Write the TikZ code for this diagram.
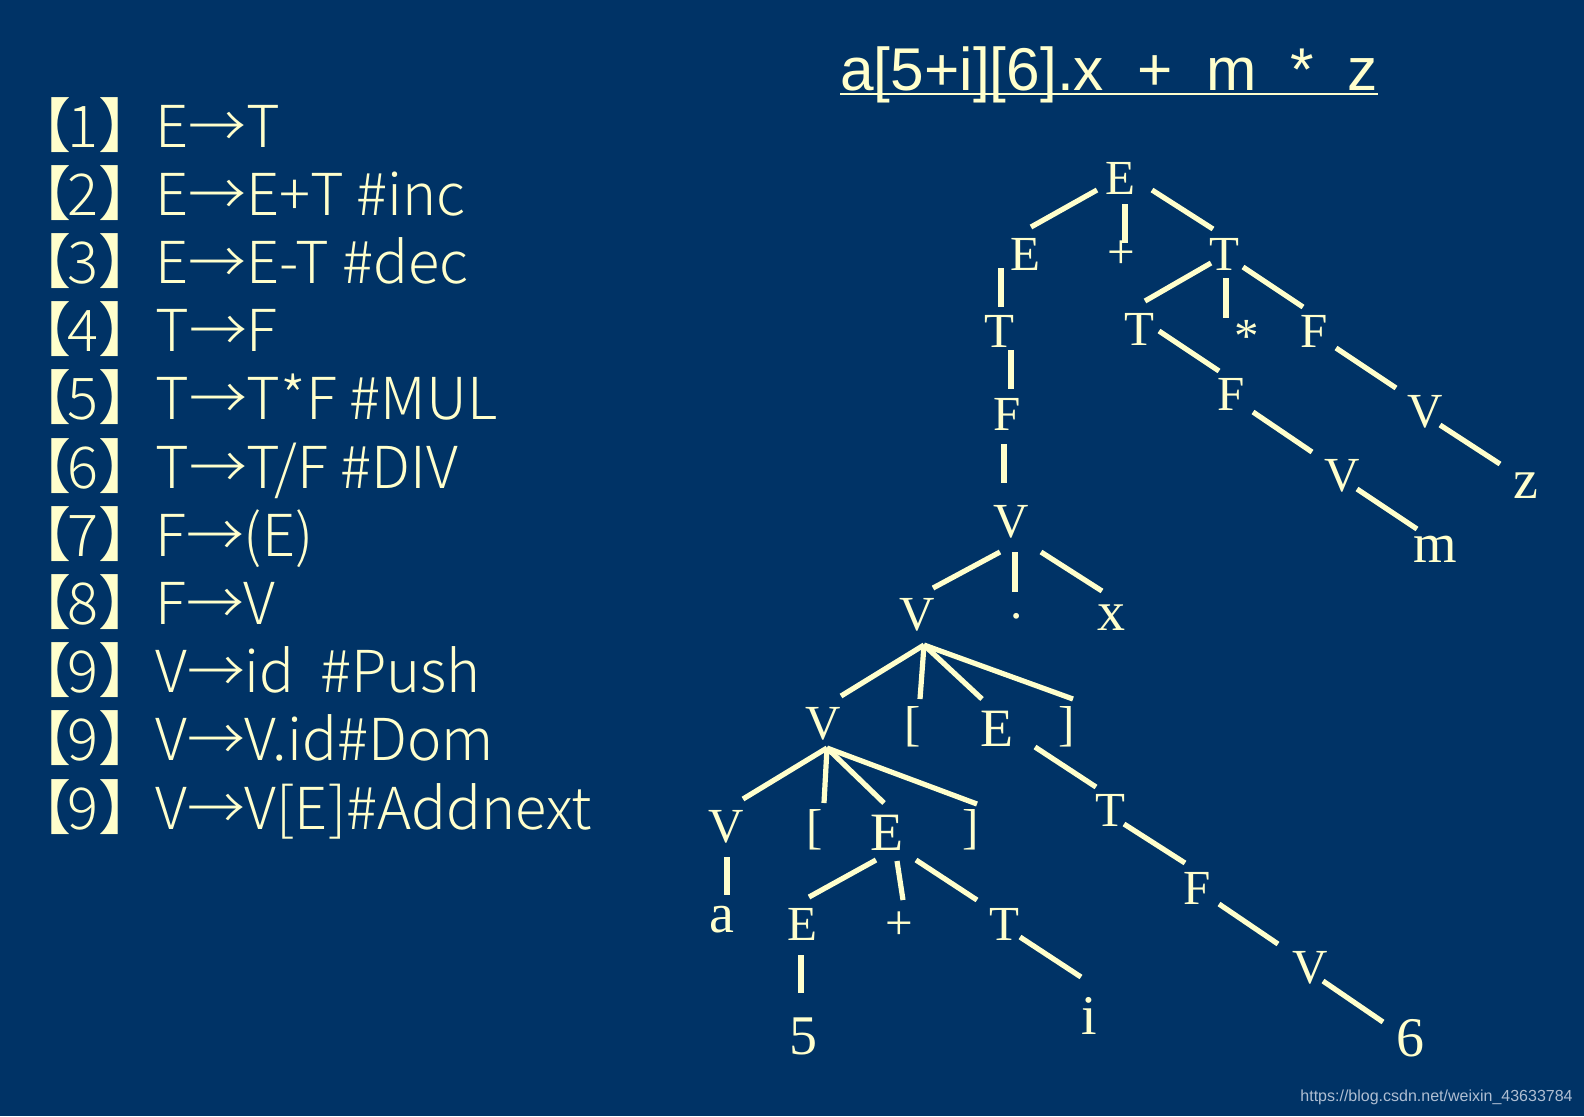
\documentclass[tikz,border=0pt]{standalone}
\usepackage{fontspec}
\IfFontExistsTF{Noto Sans CJK SC Light}{\newfontfamily\cjkf{Noto Sans CJK SC Light}}{\newfontfamily\cjkf{Noto Sans CJK SC}}
\newfontfamily\cjkb{Noto Sans CJK SC}
\newfontfamily\tmsf{Liberation Serif}
\newfontfamily\arlf{Liberation Sans}
\definecolor{bg}{RGB}{0,51,102}
\definecolor{fg}{RGB}{255,255,204}
\definecolor{wm}{RGB}{175,190,210}
\tikzset{
  gb/.style={font=\cjkf\fontsize{28.9}{30}\selectfont, text=fg, inner sep=0pt},
  gk/.style={font=\cjkb\fontsize{29.5}{30}\selectfont, text=fg, inner sep=0pt},
  nt/.style={font=\tmsf\fontsize{24.5}{25}\selectfont, text=fg, inner sep=0pt},
  ntb/.style={nt, font=\tmsf\fontsize{27}{27}\selectfont},
  lf/.style={nt, font=\tmsf\fontsize{28}{28}\selectfont},
  ln/.style={draw=fg, line width=2.6pt},
}
\newcommand\gramline[4]{%
  \node[gk, anchor=base east] (#1l) at (72,#2) {【};
  \node[gb, anchor=base west] (#1n) at (67,#2) {#3};
  \node[gk, anchor=base west] (#1r) at (98,#2) {】};
  \node[gb, anchor=base west] (#1) at (155,#2) {#4};
}
\begin{document}
\begin{tikzpicture}[x=0.5pt,y=-0.5pt]
\path[fill=bg, use as bounding box] (0,0) rectangle (1584,1116);

% grammar
\gramline{g1}{147}{1}{E→T}
\gramline{g2}{215.2}{2}{E→E+T \#inc}
\gramline{g3}{283.4}{3}{E→E-T \#dec}
\gramline{g4}{351.6}{4}{T→F}
\gramline{g5}{419.8}{5}{T→T*F \#MUL}
\gramline{g6}{488}{6}{T→T/F \#DIV}
\gramline{g7}{556.2}{7}{F→(E)}
\gramline{g8}{624.4}{8}{F→V}
\gramline{g9}{692.6}{9}{V→id\ \ \#Push}
\gramline{g10}{760.8}{9}{V→V.id\#Dom}
\gramline{g11}{829}{9}{V→V[E]\#Addnext}

% title
\node[font=\arlf\fontsize{30.2}{30}\selectfont, text=fg, inner sep=0pt, anchor=base west] (title) at (840,90) {a[5+i][6].x\ \ +\ \ m\ \ *\ \ z};
\draw[fg, line width=1.1pt] ([yshift=-2pt]title.base west) -- ([yshift=-2pt]title.base east);

% tree nodes
\node[nt] (E0) at (1120,178) {E};
\node[nt] (E1) at (1025,254) {E};
\node[nt] (P1) at (1121,255) {+};
\node[nt] (T1) at (1224,254) {T};
\node[nt] (T2) at (999,331) {T};
\node[nt] (F2) at (1007,414) {F};
\node[nt] (V3) at (1011,522) {V};
\node[nt] (T3) at (1139,329) {T};
\node[nt] (S1) at (1247,336) {*};
\node[nt] (F3) at (1314,331) {F};
\node[nt] (F4) at (1231,394) {F};
\node[nt] (V4) at (1342,476) {V};
\node[lf] (M) at (1435,549) {m};
\node[nt] (V5) at (1425,412) {V};
\node[lf] (Z) at (1526,486) {z};
\node[nt] (V6) at (917,615) {V};
\node[nt] (D1) at (1017,616) {.};
\node[lf] (X) at (1111,618) {x};
\node[nt] (V7) at (823,724) {V};
\node[nt] (L1) at (913,727) {[};
\node[ntb] (E7) at (997,729) {E};
\node[nt] (R1) at (1067,727) {]};
\node[nt] (T8) at (1110,810) {T};
\node[nt] (F9) at (1197,888) {F};
\node[nt] (V10) at (1310,968) {V};
\node[lf] (SIX) at (1410,1038) {6};
\node[nt] (V11) at (726,827) {V};
\node[nt] (L2) at (815,830) {[};
\node[ntb] (E11) at (887,833) {E};
\node[nt] (R2) at (971,830) {]};
\node[lf] (A) at (722,920) {a};
\node[nt] (E12) at (802,924) {E};
\node[nt] (P2) at (899,926) {+};
\node[nt] (T12) at (1004,924) {T};
\node[lf] (FIVE) at (803,1036) {5};
\node[lf] (I) at (1089,1016) {i};

% connectors
\draw[ln] ([shift={(-23,12)}]E0.center) -- ([shift={(6,-27)}]E1.center);
\draw[ln] ([shift={(5,26)}]E0.center) -- ([shift={(4,-12)}]P1.center);
\draw[ln] ([shift={(32,12)}]E0.center) -- ([shift={(-11,-25)}]T1.center);
\draw[ln] ([shift={(-24,14)}]E1.center) -- ([shift={(2,-24)}]T2.center);
\draw[ln] ([shift={(12,19)}]T2.center) -- ([shift={(4,-25)}]F2.center);
\draw[ln] ([shift={(-3,30)}]F2.center) -- ([shift={(-7,-39)}]V3.center);
\draw[ln] ([shift={(-13,9)}]T1.center) -- ([shift={(6,-28)}]T3.center);
\draw[ln] ([shift={(2,24)}]T1.center) -- ([shift={(-21,-18)}]S1.center);
\draw[ln] ([shift={(19,13)}]T1.center) -- ([shift={(-11,-24)}]F3.center);
\draw[ln] ([shift={(20,2)}]T3.center) -- ([shift={(-12,-23)}]F4.center);
\draw[ln] ([shift={(22,18)}]F4.center) -- ([shift={(-30,-24)}]V4.center);
\draw[ln] ([shift={(15,13)}]V4.center) -- ([shift={(-18,-20)}]M.center);
\draw[ln] ([shift={(22,17)}]F3.center) -- ([shift={(-29,-24)}]V5.center);
\draw[ln] ([shift={(15,13)}]V5.center) -- ([shift={(-26,-22)}]Z.center);
\draw[ln] ([shift={(-11,30)}]V3.center) -- ([shift={(16,-27)}]V6.center);
\draw[ln] ([shift={(4,30)}]V3.center) -- ([shift={(-2,-24)}]D1.center);
\draw[ln] ([shift={(30,30)}]V3.center) -- ([shift={(-9,-27)}]X.center);
\draw[ln] ([shift={(7,30)}]V6.center) -- ([shift={(18,-28)}]V7.center);
\draw[ln] ([shift={(7,30)}]V6.center) -- ([shift={(7,-28)}]L1.center);
\draw[ln] ([shift={(7,30)}]V6.center) -- ([shift={(-15,-30)}]E7.center);
\draw[ln] ([shift={(7,30)}]V6.center) -- ([shift={(6,-28)}]R1.center);
\draw[ln] ([shift={(38,18)}]E7.center) -- ([shift={(-14,-23)}]T8.center);
\draw[ln] ([shift={(14,14)}]T8.center) -- ([shift={(-12,-25)}]F9.center);
\draw[ln] ([shift={(22,16)}]F9.center) -- ([shift={(-32,-24)}]V10.center);
\draw[ln] ([shift={(13,13)}]V10.center) -- ([shift={(-27,-16)}]SIX.center);
\draw[ln] ([shift={(4,24)}]V7.center) -- ([shift={(17,-28)}]V11.center);
\draw[ln] ([shift={(4,24)}]V7.center) -- ([shift={(9,-27)}]L2.center);
\draw[ln] ([shift={(4,24)}]V7.center) -- ([shift={(-3,-30)}]E11.center);
\draw[ln] ([shift={(4,24)}]V7.center) -- ([shift={(6,-26)}]R2.center);
\draw[ln] ([shift={(1,30)}]V11.center) -- ([shift={(5,-25)}]A.center);
\draw[ln] ([shift={(-11,27)}]E11.center) -- ([shift={(7,-27)}]E12.center);
\draw[ln] ([shift={(10,28)}]E11.center) -- ([shift={(4,-26)}]P2.center);
\draw[ln] ([shift={(29,27)}]E11.center) -- ([shift={(-27,-24)}]T12.center);
\draw[ln] ([shift={(-1,31)}]E12.center) -- ([shift={(-2,-43)}]FIVE.center);
\draw[ln] ([shift={(16,13)}]T12.center) -- ([shift={(-8,-39)}]I.center);

% watermark
\node[font=\arlf\fontsize{8}{8}\selectfont, text=wm, inner sep=0pt, anchor=base east] (wmark) at (1573,1101) {https://blog.csdn.net/weixin\_43633784};
\end{tikzpicture}
\end{document}
